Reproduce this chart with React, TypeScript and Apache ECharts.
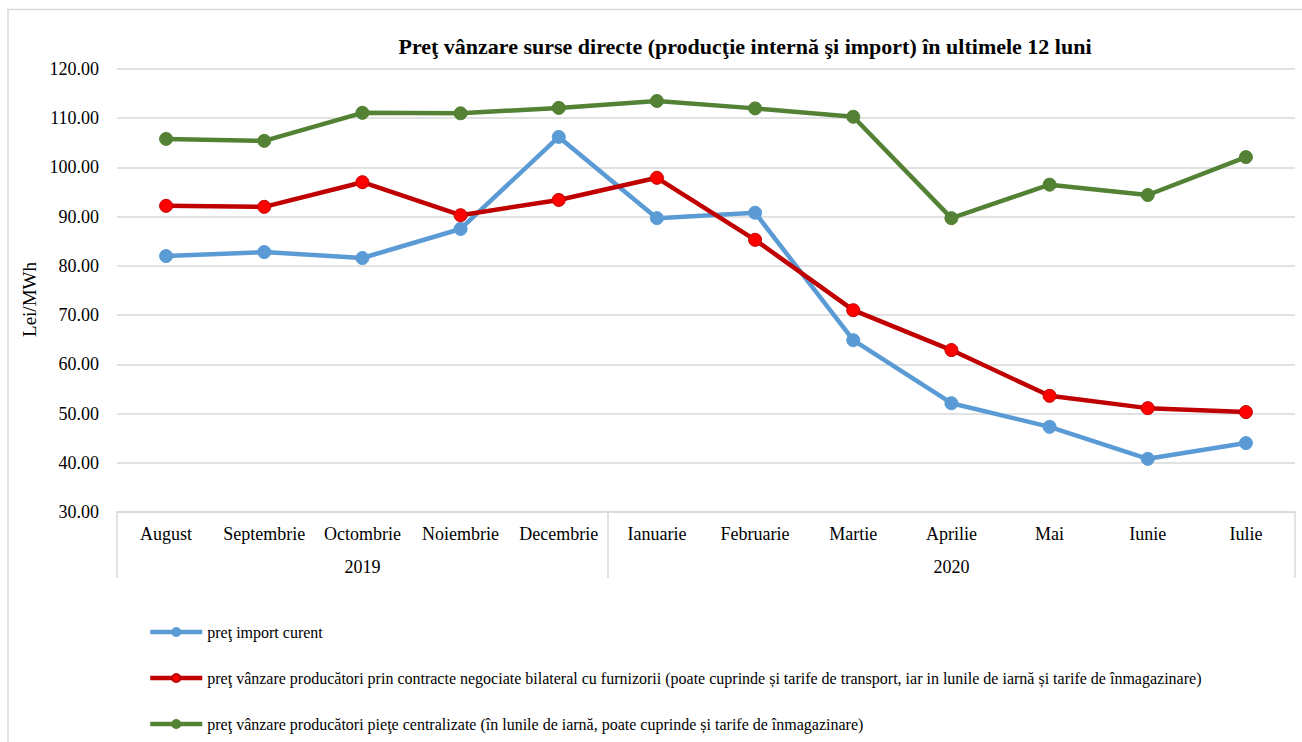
import React, { useEffect, useRef } from "react";
import * as echarts from "echarts";

const months = ["August", "Septembrie", "Octombrie", "Noiembrie", "Decembrie", "Ianuarie", "Februarie", "Martie", "Aprilie", "Mai", "Iunie", "Iulie"];
const yearLabels = ["", "", "2019", "", "", "", "", "", "2020", "", "", ""];
const importCurent = [82.0, 82.8, 81.6, 87.5, 106.2, 89.7, 90.8, 64.9, 52.1, 47.3, 40.8, 44.0];
const contracteBilaterale = [92.2, 92.0, 97.0, 90.3, 93.4, 97.9, 85.3, 71.0, 62.9, 53.6, 51.1, 50.3];
const pieteCentralizate = [105.8, 105.4, 111.1, 111.0, 112.1, 113.5, 112.0, 110.3, 89.7, 96.5, 94.4, 102.1];

const seriesNames = [
  "preţ import curent",
  "preţ vânzare producători prin contracte negociate bilateral cu furnizorii (poate cuprinde și tarife de transport, iar in lunile de iarnă și tarife de înmagazinare)",
  "preţ vânzare producători pieţe centralizate (în lunile de iarnă, poate cuprinde și tarife de înmagazinare)",
];

const FONT = "'Liberation Serif', 'Times New Roman', serif";

export default function App() {
  const ref = useRef<HTMLDivElement>(null);
  useEffect(() => {
    if (!ref.current) return;
    const chart = echarts.init(ref.current, null, { renderer: "svg" });
    const lineSeries = (name: string, data: number[], lineColor: string, fill: string, border: string) => ({
      name,
      type: "line",
      data,
      symbol: "circle",
      symbolSize: 13,
      showSymbol: true,
      lineStyle: { color: lineColor, width: 4.5 },
      itemStyle: { color: fill, borderColor: border, borderWidth: 1 },
      emphasis: { disabled: true },
    });
    chart.setOption({
      animation: false,
      backgroundColor: "#ffffff",
      textStyle: { fontFamily: FONT, color: "#000" },
      title: {
        text: "Preţ vânzare surse directe (producţie internă şi import) în ultimele 12 luni",
        left: 740,
        textAlign: "center",
        top: 30,
        textStyle: { fontFamily: FONT, fontSize: 22, fontWeight: "bold", color: "#000" },
      },
      grid: { left: 117, right: 7, top: 69, bottom: 230, containLabel: false },
      legend: {
        orient: "vertical",
        left: 143,
        top: 619,
        itemGap: 30,
        itemWidth: 52,
        itemHeight: 10,
        lineStyle: { width: 4.5 },
        textStyle: { fontFamily: FONT, fontSize: 16, color: "#000" },
        data: seriesNames,
      },
      xAxis: [
        {
          type: "category",
          data: months,
          boundaryGap: true,
          axisLine: { show: true, lineStyle: { color: "#d9d9d9", width: 1.5 } },
          axisTick: {
            show: true,
            length: 66,
            interval: (i: number) => i === 0 || i === 5,
            lineStyle: { color: "#d9d9d9", width: 1.5 },
          },
          axisLabel: { interval: 0, margin: 13, fontSize: 18, fontFamily: FONT, color: "#000" },
        },
        {
          type: "category",
          data: yearLabels,
          position: "bottom",
          offset: 33,
          boundaryGap: true,
          axisLine: { show: false },
          axisTick: { show: false },
          axisLabel: { interval: 0, margin: 13, fontSize: 18, fontFamily: FONT, color: "#000" },
        },
      ],
      yAxis: {
        type: "value",
        min: 30,
        max: 120,
        interval: 10,
        name: "Lei/MWh",
        nameLocation: "middle",
        nameRotate: 90,
        nameGap: 71,
        nameTextStyle: { fontFamily: FONT, fontSize: 19, color: "#000", padding: [0, 18, 0, 0] },
        axisLine: { show: false },
        axisTick: { show: false },
        axisLabel: {
          margin: 18,
          fontSize: 18,
          fontFamily: FONT,
          color: "#000",
          formatter: (v: number) => v.toFixed(2),
        },
        splitLine: { show: true, lineStyle: { color: "#d9d9d9", width: 1.5 } },
      },
      graphic: [
        {
          type: "rect",
          shape: { x: 8, y: 9.5, width: 1400, height: 800 },
          style: { fill: "none", stroke: "#d9d9d9", lineWidth: 1.5 },
          silent: true,
        },
      ],
      series: [
        lineSeries(seriesNames[0], importCurent, "#5b9bd5", "#5b9bd5", "#5b9bd5"),
        lineSeries(seriesNames[1], contracteBilaterale, "#c00000", "#ff0000", "#c00000"),
        lineSeries(seriesNames[2], pieteCentralizate, "#548235", "#548235", "#548235"),
      ],
    });
    return () => chart.dispose();
  }, []);
  return (
    <div
      ref={ref}
      style={{ position: "absolute", left: 0, top: 0, width: 1302, height: 742, background: "#fff" }}
    />
  );
}
